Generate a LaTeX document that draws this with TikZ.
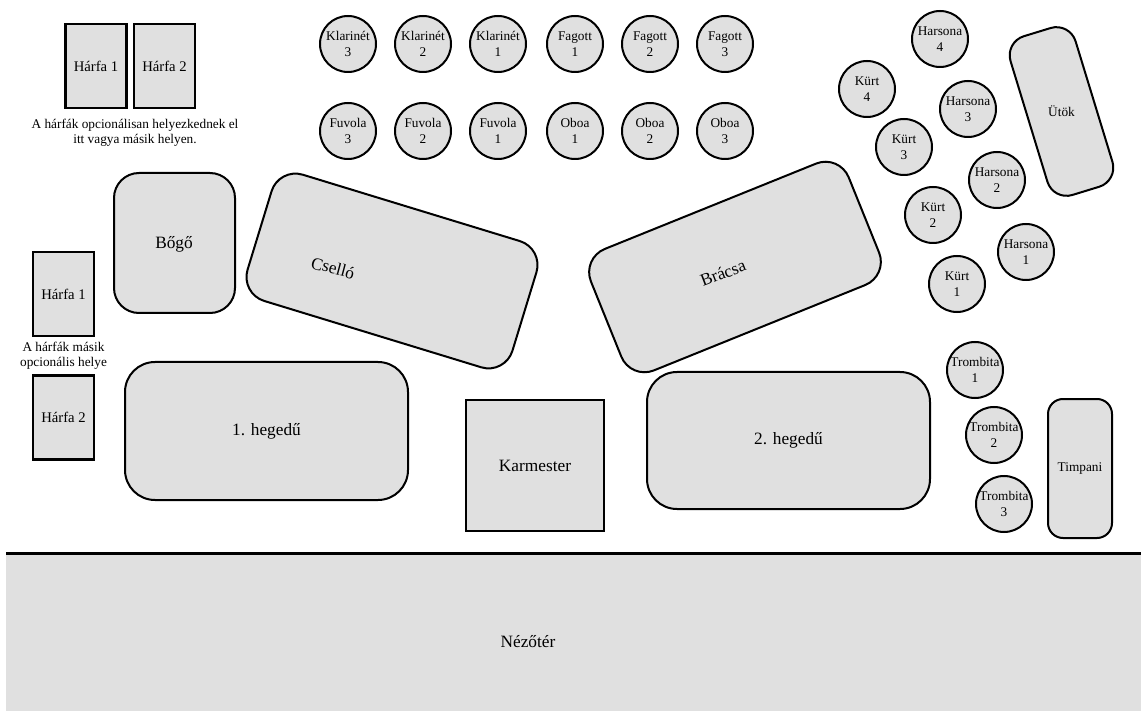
\documentclass[tikz,border=0pt]{standalone}
\usepackage{fontspec}
\setmainfont{Liberation Serif}
\usepackage{tikz}
\definecolor{Seatgray}{RGB}{224,224,224}

\begin{document}
\begin{tikzpicture}[x=1pt, y=-1pt,
  seat/.style={circle, draw=black, line width=2pt, fill=Seatgray,
               minimum size=56pt, inner sep=0pt, align=center,
               font=\fontsize{13.3}{15.5}\selectfont},
  groupbox/.style={rectangle, rounded corners=25pt,
                   draw=black, line width=2pt, fill=Seatgray,
                   inner sep=0pt, align=center,
                   font=\fontsize{17.3}{20}\selectfont},
  harpbox/.style={rectangle, draw=black, line width=2.2pt, fill=Seatgray,
                  minimum width=61pt, minimum height=84pt,
                  font=\fontsize{14.7}{17}\selectfont},
  grouplbl/.style={font=\fontsize{17.3}{20}\selectfont},
  lbl/.style={font=\fontsize{13.3}{15}\selectfont, align=center}
]
\useasboundingbox (0,0) rectangle (1141,711);

%% --- AUDIENCE ---
\fill[Seatgray] (6,553) rectangle (1141,711);
\draw[line width=3pt] (6,553) -- (1141,553);
\node[grouplbl] (nezoter) at (528,642) {Nézőtér};

%% --- HARPS (first place) ---
\node[harpbox] (harfaA1) at (96,66) {Hárfa 1};
\node[harpbox] (harfaA2) at (164.5,66) {Hárfa 2};
\node[lbl] (noteA) at (135,133)
  {A hárfák opcionálisan helyezkednek el\\itt vagya másik helyen.};

%% --- HARPS (second place) ---
\node[harpbox] (harfaB1) at (63.5,294) {Hárfa 1};
\node[harpbox] (harfaB2) at (63.5,417.5) {Hárfa 2};
\node[lbl] (noteB) at (63.5,355.5) {A hárfák másik\\opcionális helye};

%% --- WOODWINDS ---
\node[seat] (kl3) at (348,44) {Klarinét\\3};
\node[seat] (kl2) at (423,44) {Klarinét\\2};
\node[seat] (kl1) at (498,44) {Klarinét\\1};
\node[seat] (fa1) at (575,44) {Fagott\\1};
\node[seat] (fa2) at (650,44) {Fagott\\2};
\node[seat] (fa3) at (725,44) {Fagott\\3};
\node[seat] (fu3) at (348,131) {Fuvola\\3};
\node[seat] (fu2) at (423,131) {Fuvola\\2};
\node[seat] (fu1) at (498,131) {Fuvola\\1};
\node[seat] (ob1) at (575,131) {Oboa\\1};
\node[seat] (ob2) at (650,131) {Oboa\\2};
\node[seat] (ob3) at (725,131) {Oboa\\3};

%% --- BRASS ---
\node[seat] (ha4) at (940,39) {Harsona\\4};
\node[seat] (ha3) at (968,109) {Harsona\\3};
\node[seat] (ha2) at (997,180) {Harsona\\2};
\node[seat] (ha1) at (1026,252) {Harsona\\1};
\node[seat] (ku4) at (867,89) {Kürt\\4};
\node[seat] (ku3) at (904,147) {Kürt\\3};
\node[seat] (ku2) at (933,215) {Kürt\\2};
\node[seat] (ku1) at (957,284) {Kürt\\1};
\node[seat] (tr1) at (975,370) {Trombita\\1};
\node[seat] (tr2) at (994,435) {Trombita\\2};
\node[seat] (tr3) at (1004,504) {Trombita\\3};

%% --- PERCUSSION ---
\node[groupbox, rounded corners=20pt, minimum width=68pt, minimum height=166pt,
      rotate=17] (utok) at (1061.5,111.5) {};
\node[lbl] (utoklbl) at (utok.center) {Ütök};
\node[groupbox, rounded corners=15pt, minimum width=64pt, minimum height=139pt,
      font=\fontsize{13.3}{15}\selectfont] (timp) at (1080,468.5) {Timpani};

%% --- STRINGS ---
\node[groupbox, minimum width=121pt, minimum height=140pt] (bogo) at (174.5,243) {};
\node[grouplbl] (bogolbl) at (174,244) {Bőgő};
\node[groupbox, minimum width=277pt, minimum height=132pt, rotate=-17]
  (cello) at (392,271) {};
\node[grouplbl, rotate=-15] (cellolbl) at (333,268) {Cselló};
\node[groupbox, minimum width=278pt, minimum height=131pt, rotate=22]
  (bracsa) at (735,267) {};
\node[grouplbl, rotate=21] (bracsalbl) at (723,273) {Brácsa};
\node[groupbox, rounded corners=30pt, minimum width=283pt, minimum height=138pt]
  (heg1) at (266.5,431) {1. hegedű};
\node[groupbox, rounded corners=30pt, minimum width=283pt, minimum height=137pt]
  (heg2) at (788.5,440.5) {2. hegedű};

%% --- CONDUCTOR ---
\node[groupbox, rounded corners=0pt, minimum width=138pt, minimum height=131pt]
  (karm) at (535,465.5) {Karmester};

\end{tikzpicture}
\end{document}
